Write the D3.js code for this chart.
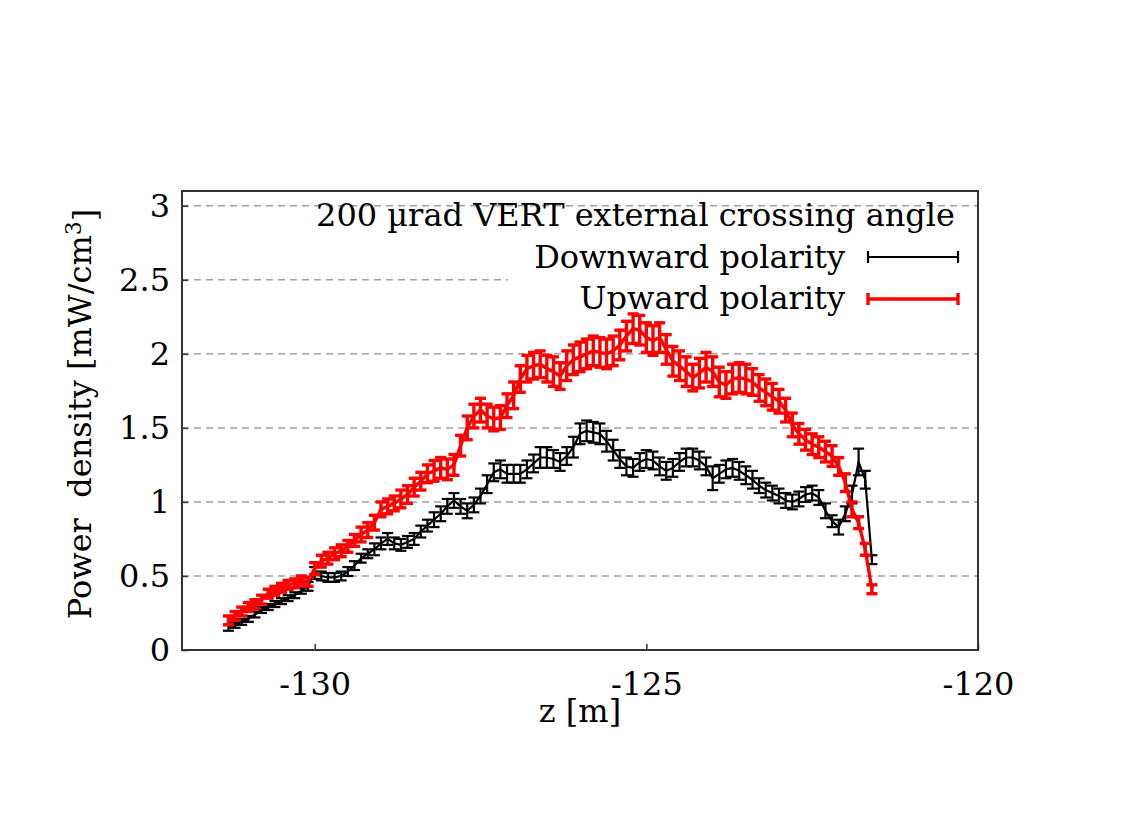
<!DOCTYPE html>
<html>
<head>
<meta charset="utf-8">
<script src="https://cdn.jsdelivr.net/npm/d3@7"></script>
<style>
  body { margin: 0; background: #fff; }
  svg { display: block; }
  text { font-family: "DejaVu Serif", serif; fill: #000; }
</style>
</head>
<body>
<div id="chart"></div>
<script>
// z positions [m], shared by both series
const zPos = [
  -131.3,-131.2,-131.1,-131.0,-130.9,-130.8,-130.7,-130.6,-130.5,-130.4,
  -130.3,-130.2,-130.1,-130.0,-129.9,-129.8,-129.7,-129.6,-129.5,-129.4,
  -129.3,-129.2,-129.1,-129.0,-128.9,-128.8,-128.7,-128.6,-128.5,-128.4,
  -128.3,-128.2,-128.1,-128.0,-127.9,-127.8,-127.7,-127.6,-127.5,-127.4,
  -127.3,-127.2,-127.1,-127.0,-126.9,-126.8,-126.7,-126.6,-126.5,-126.4,
  -126.3,-126.2,-126.1,-126.0,-125.9,-125.8,-125.7,-125.6,-125.5,-125.4,
  -125.3,-125.2,-125.1,-125.0,-124.9,-124.8,-124.7,-124.6,-124.5,-124.4,
  -124.3,-124.2,-124.1,-124.0,-123.9,-123.8,-123.7,-123.6,-123.5,-123.4,
  -123.3,-123.2,-123.1,-123.0,-122.9,-122.8,-122.7,-122.6,-122.5,-122.4,
  -122.3,-122.2,-122.1,-122.0,-121.9,-121.8,-121.7,-121.6
];

// Downward polarity (black)
const downVal = [
  0.15,0.17,0.19,0.21,0.24,0.27,0.29,0.31,0.33,0.35,
  0.37,0.40,0.43,0.52,0.50,0.49,0.49,0.50,0.53,0.57,
  0.62,0.65,0.68,0.72,0.75,0.72,0.71,0.73,0.75,0.80,
  0.84,0.88,0.92,0.97,1.01,0.97,0.94,0.98,1.04,1.12,
  1.20,1.22,1.19,1.19,1.19,1.22,1.26,1.30,1.30,1.29,
  1.27,1.31,1.37,1.46,1.48,1.47,1.46,1.41,1.35,1.29,
  1.24,1.23,1.27,1.29,1.28,1.24,1.21,1.23,1.27,1.30,
  1.30,1.28,1.24,1.16,1.19,1.22,1.23,1.21,1.18,1.15,
  1.11,1.08,1.06,1.04,1.01,1.00,1.02,1.05,1.06,1.03,
  0.94,0.87,0.83,0.92,1.05,1.27,1.15,0.61
];
const downErr = [
  0.02,0.02,0.02,0.02,0.02,0.02,0.02,0.02,0.02,0.02,
  0.02,0.02,0.03,0.04,0.03,0.03,0.03,0.03,0.03,0.03,
  0.03,0.03,0.04,0.04,0.04,0.04,0.04,0.04,0.04,0.04,
  0.04,0.05,0.05,0.05,0.05,0.05,0.05,0.05,0.05,0.06,
  0.06,0.06,0.06,0.06,0.06,0.06,0.06,0.07,0.07,0.06,
  0.06,0.06,0.07,0.07,0.07,0.07,0.07,0.07,0.07,0.06,
  0.06,0.06,0.06,0.06,0.06,0.06,0.06,0.06,0.06,0.06,
  0.06,0.06,0.06,0.08,0.06,0.06,0.06,0.06,0.06,0.06,
  0.05,0.05,0.05,0.05,0.05,0.05,0.05,0.05,0.05,0.05,
  0.05,0.04,0.05,0.05,0.06,0.09,0.06,0.03
];

// Upward polarity (red)
const upVal = [
  0.20,0.23,0.26,0.29,0.31,0.34,0.38,0.40,0.42,0.44,
  0.45,0.47,0.46,0.55,0.60,0.62,0.65,0.67,0.70,0.74,
  0.78,0.81,0.86,0.95,0.97,0.99,1.02,1.05,1.10,1.14,
  1.19,1.21,1.23,1.22,1.25,1.38,1.50,1.58,1.62,1.58,
  1.56,1.57,1.65,1.72,1.83,1.90,1.92,1.93,1.90,1.88,
  1.85,1.92,1.96,1.98,2.00,2.02,2.01,2.00,2.02,2.06,
  2.12,2.17,2.16,2.11,2.09,2.11,2.03,1.95,1.92,1.88,
  1.84,1.87,1.91,1.88,1.81,1.79,1.83,1.84,1.83,1.81,
  1.77,1.74,1.71,1.68,1.62,1.52,1.46,1.42,1.39,1.37,
  1.34,1.31,1.24,1.13,0.95,0.86,0.68,0.41
];
const upErr = [
  0.03,0.03,0.03,0.03,0.03,0.03,0.03,0.03,0.03,0.03,
  0.03,0.03,0.03,0.04,0.04,0.04,0.04,0.04,0.04,0.04,
  0.05,0.05,0.05,0.05,0.05,0.05,0.06,0.06,0.06,0.06,
  0.06,0.07,0.07,0.07,0.07,0.07,0.08,0.08,0.08,0.08,
  0.08,0.08,0.08,0.09,0.09,0.09,0.09,0.09,0.09,0.10,
  0.09,0.10,0.10,0.10,0.10,0.10,0.10,0.10,0.10,0.10,
  0.10,0.10,0.10,0.10,0.10,0.10,0.10,0.10,0.10,0.10,
  0.09,0.10,0.10,0.10,0.10,0.09,0.10,0.10,0.10,0.09,
  0.09,0.09,0.09,0.08,0.08,0.08,0.07,0.07,0.07,0.07,
  0.07,0.07,0.06,0.06,0.05,0.04,0.04,0.03
];

const xTicks = [-130, -125, -120];
const yTicks = [0, 0.5, 1, 1.5, 2, 2.5, 3];
const keyTitle = '200 \u00b5rad VERT external crossing angle';
const seriesNames = ['Downward polarity', 'Upward polarity'];

const W = 1136, H = 824;
const margin = { top: 191, right: 158, bottom: 174, left: 182 };
const width  = W - margin.left - margin.right;
const height = H - margin.top - margin.bottom;

const svg = d3.select('#chart').append('svg')
  .attr('width', W).attr('height', H);

const g = svg.append('g')
  .attr('transform', `translate(${margin.left},${margin.top})`);

const x = d3.scaleLinear().domain([-132, -120]).range([0, width]);
const y = d3.scaleLinear().domain([0, 3.1]).range([height, 0]);

// grid
const gridColor = '#a0a0a0';
g.append('g').selectAll('line')
  .data(yTicks.filter(d => d > 0))
  .enter().append('line')
    .attr('x1', 0).attr('x2', width)
    .attr('y1', d => y(d)).attr('y2', d => y(d))
    .attr('stroke', gridColor).attr('stroke-width', 1.5)
    .attr('stroke-dasharray', '7,5');
g.append('g').selectAll('line')
  .data(xTicks.filter(d => d > -120))
  .enter().append('line')
    .attr('x1', d => x(d)).attr('x2', d => x(d))
    .attr('y1', 0).attr('y2', height)
    .attr('stroke', gridColor).attr('stroke-width', 1.5)
    .attr('stroke-dasharray', '7,5');

// opaque key background
g.append('rect')
  .attr('x', 326).attr('y', 46)
  .attr('width', width - 327).attr('height', 83)
  .attr('fill', '#fff');

// series
function drawSeries(vals, errs, color, lw) {
  const pts = zPos.map((z, i) => ({ z, v: vals[i], e: errs[i] }));
  const s = g.append('g');
  s.append('path')
    .datum(pts)
    .attr('fill', 'none')
    .attr('stroke', color)
    .attr('stroke-width', lw)
    .attr('stroke-linejoin', 'round')
    .attr('d', d3.line().x(d => x(d.z)).y(d => y(d.v)));
  const cap = 5.5;
  const eb = s.selectAll('.eb').data(pts).enter().append('g')
    .attr('stroke', color).attr('stroke-width', lw);
  eb.append('line')
    .attr('x1', d => x(d.z)).attr('x2', d => x(d.z))
    .attr('y1', d => y(d.v - d.e)).attr('y2', d => y(d.v + d.e));
  eb.append('line')
    .attr('x1', d => x(d.z) - cap).attr('x2', d => x(d.z) + cap)
    .attr('y1', d => y(d.v + d.e)).attr('y2', d => y(d.v + d.e));
  eb.append('line')
    .attr('x1', d => x(d.z) - cap).attr('x2', d => x(d.z) + cap)
    .attr('y1', d => y(d.v - d.e)).attr('y2', d => y(d.v - d.e));
}
drawSeries(downVal, downErr, '#000', 2.2);
drawSeries(upVal, upErr, '#ff0000', 3.4);

// axes
const fontSize = 32;
const yAxis = g.append('g')
  .call(d3.axisLeft(y).tickValues(yTicks).tickFormat(d => String(d))
    .tickSizeInner(-6).tickSizeOuter(0).tickPadding(12));
const xAxis = g.append('g')
  .attr('transform', `translate(0,${height})`)
  .call(d3.axisBottom(x).tickValues(xTicks).tickFormat(d => String(d))
    .tickSizeInner(-6).tickSizeOuter(0).tickPadding(22));
[xAxis, yAxis].forEach(a => {
  a.select('.domain').remove();
  a.selectAll('line').attr('stroke', '#333').attr('stroke-width', 1.5);
  a.selectAll('text')
    .style('font-family', '"DejaVu Serif", serif')
    .style('font-size', fontSize + 'px')
    .attr('fill', '#000');
});

// border
g.append('rect')
  .attr('width', width).attr('height', height)
  .attr('fill', 'none').attr('stroke', '#333').attr('stroke-width', 2);

// key
g.append('text')
  .attr('x', 955 - margin.left).attr('y', 226 - margin.top)
  .attr('text-anchor', 'end')
  .style('font-size', fontSize + 'px')
  .text(keyTitle);

const keyRows = [
  { name: seriesNames[0], color: '#000', lw: 2.2, base: 268, ly: 257 },
  { name: seriesNames[1], color: '#ff0000', lw: 3.4, base: 309, ly: 299 }
];
keyRows.forEach(r => {
  g.append('text')
    .attr('x', 845 - margin.left).attr('y', r.base - margin.top)
    .attr('text-anchor', 'end')
    .style('font-size', fontSize + 'px')
    .text(r.name);
  const k = g.append('g').attr('stroke', r.color).attr('stroke-width', r.lw);
  const x0 = 868 - margin.left, x1 = 958 - margin.left, ly = r.ly - margin.top;
  k.append('line').attr('x1', x0).attr('x2', x1).attr('y1', ly).attr('y2', ly);
  k.append('line').attr('x1', x0).attr('x2', x0).attr('y1', ly - 6).attr('y2', ly + 6);
  k.append('line').attr('x1', x1).attr('x2', x1).attr('y1', ly - 6).attr('y2', ly + 6);
});

// axis titles
svg.append('text')
  .attr('x', 580).attr('y', 722)
  .attr('text-anchor', 'middle')
  .style('font-size', fontSize + 'px')
  .text('z [m]');

const yl = svg.append('text')
  .attr('transform', 'translate(91,414) rotate(-90)')
  .attr('text-anchor', 'middle')
  .style('font-size', fontSize + 'px')
  .style('white-space', 'pre');
yl.append('tspan').text('Power  density [mW/cm');
yl.append('tspan').attr('dy', '-0.45em').style('font-size', '22px').text('3');
yl.append('tspan').attr('dy', '0.45em').text(']');
</script>
</body>
</html>
